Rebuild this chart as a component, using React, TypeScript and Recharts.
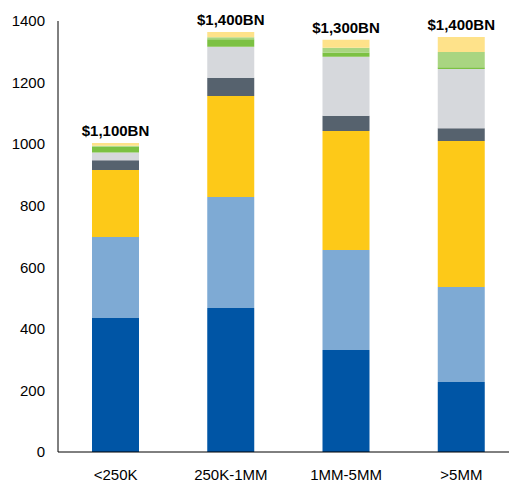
import { BarChart, Bar, XAxis, YAxis, LabelList } from 'recharts';

const categories = ['<250K', '250K-1MM', '1MM-5MM', '>5MM'];
const totalLabels = ['$1,100BN', '$1,400BN', '$1,300BN', '$1,400BN'];

// stacked segments, bottom to top
const darkBlue = [435, 468, 331, 227];
const lightBlue = [263, 360, 325, 309];
const gold = [218, 328, 387, 474];
const slate = [32, 60, 49, 42];
const lightGrey = [25, 100, 192, 192];
const green = [19, 25, 14, 6];
const lightGreen = [3, 6, 15, 49];
const paleYellow = [9, 17, 26, 49];

const yTicks = [0, 200, 400, 600, 800, 1000, 1200, 1400];

const SERIES = [
  { key: 'darkBlue', color: '#0055a5' },
  { key: 'lightBlue', color: '#7eaad4' },
  { key: 'gold', color: '#fdc918' },
  { key: 'slate', color: '#56626e' },
  { key: 'lightGrey', color: '#d6d8dc' },
  { key: 'green', color: '#7cc143' },
  { key: 'lightGreen', color: '#a9d581' },
  { key: 'paleYellow', color: '#fee28a' },
];

const data = categories.map((category, i) => ({
  category,
  label: totalLabels[i],
  darkBlue: darkBlue[i],
  lightBlue: lightBlue[i],
  gold: gold[i],
  slate: slate[i],
  lightGrey: lightGrey[i],
  green: green[i],
  lightGreen: lightGreen[i],
  paleYellow: paleYellow[i],
}));

const tickStyle = { fill: '#000', fontSize: 15, fontFamily: '"Liberation Sans", Arial, sans-serif' };

export default function App() {
  return (
    <div style={{ width: 509, height: 475, overflow: 'hidden' }}>
      <BarChart
        width={511}
        height={475}
        data={data}
        margin={{ top: 13, right: 0, bottom: 0, left: 0 }}
        barCategoryGap={0}
      >
        <XAxis
          dataKey="category"
          tick={tickStyle}
          tickLine={false}
          axisLine={{ stroke: '#000' }}
          tickMargin={11}
          height={31}
          interval={0}
        />
        <YAxis
          domain={[0, 1400]}
          ticks={yTicks}
          tick={tickStyle}
          tickLine={false}
          axisLine={{ stroke: '#000' }}
          tickMargin={7}
          width={50}
          interval={0}
        />
        {SERIES.map((s, idx) => (
          <Bar
            key={s.key}
            dataKey={s.key}
            stackId="a"
            fill={s.color}
            barSize={47}
            isAnimationActive={false}
          >
            {idx === SERIES.length - 1 && (
              <LabelList
                dataKey="label"
                position="top"
                offset={7}
                style={{
                  fill: '#000',
                  fontSize: 15,
                  fontWeight: 'bold',
                  fontFamily: '"Liberation Sans", Arial, sans-serif',
                }}
              />
            )}
          </Bar>
        ))}
      </BarChart>
    </div>
  );
}
